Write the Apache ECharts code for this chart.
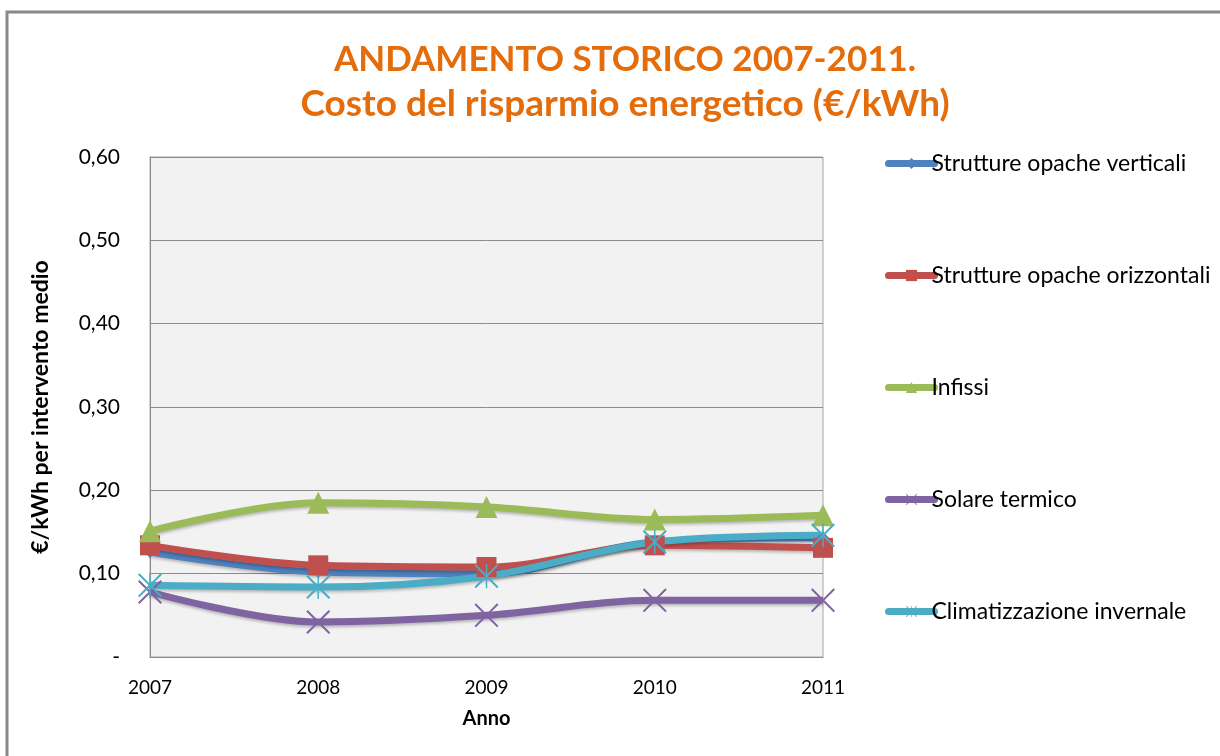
<!DOCTYPE html>
<html>
<head>
<meta charset="utf-8">
<script src="https://cdn.jsdelivr.net/npm/echarts@6/dist/echarts.min.js"></script>
<style>
html, body { margin: 0; padding: 0; background: #fff; }
#chart { width: 1220px; height: 756px; }
</style>
</head>
<body>
<div id="chart"></div>
<script>
var years = ["2007", "2008", "2009", "2010", "2011"];
var verticali = [0.126, 0.102, 0.100, 0.138, 0.143];
var orizzontali = [0.134, 0.110, 0.108, 0.134, 0.131];
var infissi = [0.151, 0.185, 0.180, 0.165, 0.170];
var solare = [0.078, 0.042, 0.050, 0.068, 0.068];
var climatizzazione = [0.086, 0.084, 0.097, 0.138, 0.146];

var FONT = "Lato, 'Liberation Sans', sans-serif";
var crossPath = "path://M0,0.06L0.06,0L0.5,0.44L0.94,0L1,0.06L0.56,0.5L1,0.94L0.94,1L0.5,0.56L0.06,1L0,0.94L0.44,0.5Z";
var starPath = crossPath.replace("path://", "path://M0.47,0L0.53,0L0.53,1L0.47,1Z");

function makeSeries(name, data, color, symbol, size) {
    return {
        name: name,
        type: "line",
        smooth: 0.35,
        data: data,
        symbol: symbol,
        symbolSize: size,
        showAllSymbol: true,
        lineStyle: {
            width: 7,
            color: color,
            shadowColor: "rgba(0,0,0,0.25)",
            shadowBlur: 3,
            shadowOffsetY: 2
        },
        itemStyle: { color: color },
        emphasis: { disabled: true }
    };
}

var chart = echarts.init(document.getElementById("chart"));
chart.setOption({
    backgroundColor: "#fff",
    animation: false,
    title: {
        text: "{a|ANDAMENTO STORICO 2007-2011.}\n{b|Costo del risparmio energetico (€/kWh)}",
        left: 620,
        textAlign: "center",
        top: 33,
        textStyle: {
            color: "#E46C0A",
            fontFamily: FONT,
            fontWeight: "bold",
            fontSize: 35,
            lineHeight: 44,
            rich: {
                a: { color: "#E46C0A", fontFamily: FONT, fontWeight: "bold", fontSize: 35, lineHeight: 44 },
                b: { color: "#E46C0A", fontFamily: FONT, fontWeight: "bold", fontSize: 37, lineHeight: 44 }
            }
        }
    },
    graphic: [{
        type: "rect",
        shape: { x: 7, y: 12, width: 1240, height: 800 },
        style: { fill: "none", stroke: "#888", lineWidth: 3 },
        silent: true
    }],
    legend: {
        orient: "vertical",
        left: 880,
        top: 147,
        itemWidth: 46,
        itemHeight: 14,
        itemGap: 89,
        lineStyle: { width: 7, cap: "round" },
        textStyle: { fontFamily: FONT, fontSize: 23, color: "#000", padding: [0, 0, 0, -8] },
        data: ["Strutture opache verticali", "Strutture opache orizzontali", "Infissi", "Solare termico", "Climatizzazione invernale"]
    },
    grid: {
        left: 150,
        right: 397,
        top: 157,
        bottom: 99,
        show: true,
        backgroundColor: "#F2F2F2",
        borderColor: "#A6A6A6",
        borderWidth: 1
    },
    xAxis: {
        type: "category",
        data: years,
        boundaryGap: false,
        name: "Anno",
        nameLocation: "middle",
        nameGap: 52,
        nameTextStyle: { fontFamily: FONT, fontSize: 20, fontWeight: "bold", color: "#000" },
        axisLine: { lineStyle: { color: "#8C8C8C" } },
        axisTick: { show: false },
        axisLabel: { fontFamily: FONT, fontSize: 19, color: "#000", margin: 21 },
        splitLine: { show: false }
    },
    yAxis: {
        type: "value",
        min: 0,
        max: 0.6,
        interval: 0.1,
        name: "€/kWh per intervento medio",
        nameLocation: "middle",
        nameGap: 98,
        nameTextStyle: { fontFamily: FONT, fontSize: 23, fontWeight: "bold", color: "#000" },
        axisLine: { show: true, lineStyle: { color: "#8C8C8C" } },
        axisTick: { show: false },
        axisLabel: {
            fontFamily: FONT,
            fontSize: 21,
            color: "#000",
            margin: 30,
            formatter: function (v) { return v === 0 ? "-" : v.toFixed(2).replace(".", ","); }
        },
        splitLine: { lineStyle: { color: "#8C8C8C", width: 1 } }
    },
    series: [
        makeSeries("Strutture opache verticali", verticali, "#4F81BD", "diamond", 12),
        makeSeries("Strutture opache orizzontali", orizzontali, "#C0504D", "rect", 20),
        makeSeries("Infissi", infissi, "#9BBB59", "triangle", 22),
        makeSeries("Solare termico", solare, "#8064A2", crossPath, 24),
        makeSeries("Climatizzazione invernale", climatizzazione, "#4BACC6", starPath, 24)
    ]
});
</script>
</body>
</html>
